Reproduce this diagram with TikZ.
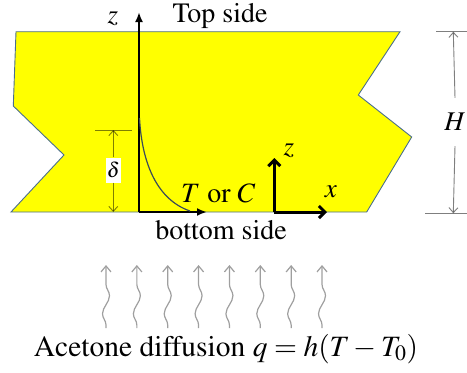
\documentclass[tikz,border=0pt]{standalone}
\usepackage[T1]{fontenc}
\usepackage{mathptmx}
\usetikzlibrary{arrows.meta,decorations.pathmorphing}
\definecolor{outl}{HTML}{4A6E8E}
\definecolor{curvec}{HTML}{3A4A5A}
\definecolor{slab}{HTML}{FFFF00}
\begin{document}
\begin{tikzpicture}[x=1pt,y=-1pt,
  lbl/.style={font=\fontsize{28}{30}\selectfont, inner sep=0pt},
  mlbl/.style={font=\fontsize{27}{29}\selectfont, inner sep=0pt},
  slabstyle/.style={draw=outl, line width=0.9pt, fill=slab},
  axis/.style={line width=2pt, -{Latex[length=10pt,width=8pt]}},
  smallaxis/.style={line width=3pt, -{Straight Barb[length=6pt,width=12pt]}},
  dim/.style={draw=black, draw opacity=0.5, line width=0.9pt},
  dimarrow/.style={dim, -{Straight Barb[length=5pt,width=9pt]}},
  wave/.style={draw=gray!75, line width=1.2pt, -{Straight Barb[length=6pt,width=10pt]}, decorate, decoration={snake, amplitude=3.5pt, segment length=36pt, pre length=3pt, post length=12pt}}
]
\useasboundingbox (0,0) rectangle (467,373);
% slab
\draw[slabstyle] (16,31.7) -- (400,31.7) -- (358.3,95) -- (411.7,137) -- (366.7,212) -- (11,212) -- (64,155) -- (13.3,106) -- cycle;
% main axes
\coordinate (O) at (139,212);
\coordinate (zt) at (139,12);
\coordinate (xt) at (207,212);
\draw[axis] (O) -- (zt);
\draw[axis] (O) -- (xt);
\node[mlbl] (zlab) at (113,19) {$z$};
\node[lbl, anchor=west] (TC) at (181,193) {$T$ or $C$};
% profile curve
\coordinate (c0) at (139.5,118);
\coordinate (c1) at (190,211);
\draw[curvec, line width=1.2pt] (c0) .. controls (142,165) and (158,200) .. (c1);
% delta dimension
\coordinate (dt1) at (95,130);
\coordinate (dt2) at (131.7,130);
\draw[dim] (dt1) -- (dt2);
\node[fill=white, inner sep=0pt, minimum width=15pt, minimum height=25pt, font=\fontsize{21}{23}\selectfont] (delta) at (113.3,170) {$\delta$};
\coordinate (da) at (113.3,130);
\coordinate (db) at (113.3,212);
\draw[dimarrow] (delta.north) -- (da);
\draw[dimarrow] (delta.south) -- (db);
% H dimension
\coordinate (h1a) at (436,31.7);
\coordinate (h1b) at (467,31.7);
\coordinate (h2a) at (425,213.3);
\coordinate (h2b) at (467,213.3);
\draw[dim] (h1a) -- (h1b);
\draw[dim] (h2a) -- (h2b);
\node[mlbl, minimum height=48pt] (H) at (455,122) {$H$};
\coordinate (ha) at (453.3,31.7);
\coordinate (hb) at (453.3,213.3);
\draw[dimarrow] (H.north) -- (ha);
\draw[dimarrow] (H.south) -- (hb);
% small axes
\coordinate (O2) at (274.3,212);
\coordinate (z2) at (274.3,158);
\coordinate (x2) at (327,212);
\draw[smallaxis] (O2) -- (z2);
\draw[smallaxis] (O2) -- (x2);
\node[mlbl] (z2lab) at (289,151) {$z$};
\node[mlbl] (x2lab) at (331,192) {$x$};
% texts
\node[lbl] (top) at (220,16) {Top side};
\node[lbl] (bottom) at (221,230) {bottom side};
\node[lbl, font=\fontsize{29.5}{31}\selectfont] (formula) at (226,349) {Acetone diffusion $q=h(T-T_0)$};
% wavy arrows
\foreach \i in {0,...,7} {
  \coordinate (wb\i) at ({106+30.86*\i},328);
  \coordinate (wt\i) at ({106+30.86*\i},265);
  \draw[wave] (wb\i) -- (wt\i);
}
\end{tikzpicture}
\end{document}
